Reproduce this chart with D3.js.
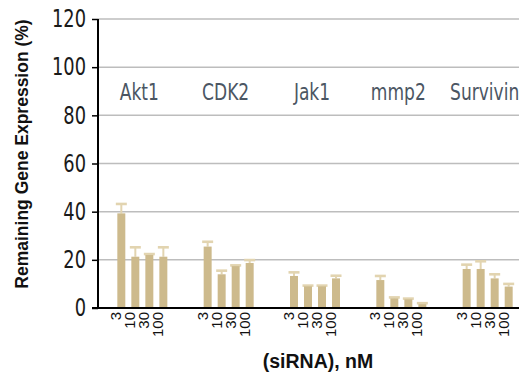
<!DOCTYPE html>
<html>
<head>
<meta charset="utf-8">
<script src="https://cdn.jsdelivr.net/npm/d3@7"></script>
<style>
  html, body { margin: 0; padding: 0; background: #fff; overflow: hidden; }
  svg { display: block; }
</style>
</head>
<body>
<div id="chart"></div>
<script>
// genes and siRNA doses
var genes = ["Akt1", "CDK2", "Jak1", "mmp2", "Survivin"];
var doses = ["3", "10", "30", "100"];
var yTicks = [0, 20, 40, 60, 80, 100, 120];

// mean remaining expression (%) per dose
var akt1 = [39.3, 21.3, 22.0, 21.3];
var cdk2 = [25.5, 14.0, 17.4, 18.7];
var jak1 = [13.3, 9.0, 9.0, 12.3];
var mmp2 = [11.6, 4.0, 3.6, 1.6];
var survivin = [16.2, 16.2, 12.3, 8.9];

// upper error (%)
var akt1Err = [3.9, 3.9, 0.4, 3.9];
var cdk2Err = [2.0, 1.5, 0.3, 1.2];
var jak1Err = [1.5, 0.3, 0.3, 1.1];
var mmp2Err = [1.7, 0.4, 0.3, 0.4];
var survivinErr = [1.8, 3.2, 1.7, 1.1];

function drawChart() {
    var means = [akt1, cdk2, jak1, mmp2, survivin];
    var errs = [akt1Err, cdk2Err, jak1Err, mmp2Err, survivinErr];

    var rows = [];
    genes.forEach(function (g, i) {
        doses.forEach(function (d, j) {
            rows.push({gene: g, dose: d, value: means[i][j], err: errs[i][j]});
        });
    });

    var width = 519, height = 373;
    var left = 98, plotTop = 19, bottom = 308;
    var narrow = "'Liberation Sans Narrow', 'Arial Narrow', 'DejaVu Sans Condensed', sans-serif";
    var sans = "'Liberation Sans', Arial, sans-serif";

    var svg = d3.select("#chart").append("svg")
        .attr("width", width)
        .attr("height", height);

    var y = d3.scaleLinear().domain([0, 120]).range([bottom, plotTop]);

    var x0 = d3.scaleBand()
        .domain(genes)
        .range([left, 532])
        .paddingInner(0.351)
        .paddingOuter(0.189);

    var x1 = d3.scaleBand()
        .domain(doses)
        .range([0, x0.bandwidth()])
        .paddingInner(0.43)
        .paddingOuter(0.215);

    // the original uses a condensed face; squeeze whatever we got to the same width
    function squeeze(sample, size, target) {
        var t = svg.append("text").style("font-family", narrow).style("font-size", size + "px").text(sample);
        var w = t.node().getComputedTextLength();
        t.remove();
        return Math.min(1, target / w);
    }
    var tickSx = squeeze("120", 24, 34);
    var geneSx = squeeze("mmp2", 23, 55);

    // gridlines
    svg.append("g")
        .selectAll("line")
        .data(yTicks.filter(function (d) { return d > 0; }))
        .enter()
        .append("line")
        .attr("x1", left)
        .attr("x2", width)
        .attr("y1", function (d) { return y(d); })
        .attr("y2", function (d) { return y(d); })
        .attr("stroke", "#bdbdbd")
        .attr("stroke-width", 1.5);

    // y axis
    var yAxis = svg.append("g")
        .attr("transform", "translate(" + left + ",0)")
        .call(d3.axisLeft(y).tickValues(yTicks).tickSize(6).tickPadding(5));
    yAxis.select(".domain").remove();
    yAxis.selectAll(".tick line").attr("stroke", "#000").attr("stroke-width", 1.5);
    yAxis.selectAll(".tick text")
        .attr("fill", "#1a1a1a")
        .attr("x", null)
        .attr("transform", "translate(-12,0) scale(" + tickSx + ",1)")
        .style("font-family", narrow)
        .style("font-size", "24px");

    // bars
    var groups = svg.append("g")
        .selectAll("g")
        .data(rows)
        .enter()
        .append("g")
        .attr("transform", function (d) { return "translate(" + (x0(d.gene) + x1(d.dose)) + ",0)"; });

    var bw = x1.bandwidth();

    groups.append("line")
        .attr("x1", bw / 2)
        .attr("x2", bw / 2)
        .attr("y1", function (d) { return y(d.value); })
        .attr("y2", function (d) { return y(d.value + d.err); })
        .attr("stroke", "#e2d4b0")
        .attr("stroke-width", 2);

    groups.append("line")
        .attr("x1", bw / 2 - 5.5)
        .attr("x2", bw / 2 + 5.5)
        .attr("y1", function (d) { return y(d.value + d.err); })
        .attr("y2", function (d) { return y(d.value + d.err); })
        .attr("stroke", "#e2d4b0")
        .attr("stroke-width", 2.6);

    groups.append("rect")
        .attr("x", 0)
        .attr("width", bw)
        .attr("y", function (d) { return y(d.value); })
        .attr("height", function (d) { return y(0) - y(d.value); })
        .attr("fill", "#cdba8c");

    // dose labels
    groups.append("text")
        .attr("transform", "translate(" + (bw / 2) + "," + (bottom + 4) + ") rotate(-90)")
        .attr("text-anchor", "end")
        .style("font-family", sans)
        .style("font-size", "15px")
        .attr("fill", "#111")
        .text(function (d) { return d.dose; });

    // axis lines
    svg.append("line")
        .attr("x1", left).attr("x2", left)
        .attr("y1", plotTop).attr("y2", bottom)
        .attr("stroke", "#000").attr("stroke-width", 2);
    svg.append("line")
        .attr("x1", left - 6).attr("x2", width)
        .attr("y1", bottom).attr("y2", bottom)
        .attr("stroke", "#000").attr("stroke-width", 2.2);

    // gene labels
    svg.append("g")
        .selectAll("text")
        .data(genes)
        .enter()
        .append("text")
        .attr("transform", function (d) {
            return "translate(" + (x0(d) + x0.bandwidth() / 2 - 3) + "," + y(86.5) + ") scale(" + geneSx + ",1)";
        })
        .attr("text-anchor", "middle")
        .attr("fill", "#4b5663")
        .style("font-family", narrow)
        .style("font-size", "23px")
        .text(function (d) { return d; });

    // axis titles
    svg.append("text")
        .attr("transform", "translate(28,154) rotate(-90)")
        .attr("text-anchor", "middle")
        .style("font-family", sans)
        .style("font-weight", "bold")
        .style("font-size", "17.5px")
        .attr("fill", "#111")
        .text("Remaining Gene Expression (%)");

    svg.append("text")
        .attr("x", 318)
        .attr("y", 368)
        .attr("text-anchor", "middle")
        .style("font-family", sans)
        .style("font-weight", "bold")
        .style("font-size", "19.5px")
        .attr("fill", "#111")
        .text("(siRNA), nM");
}

drawChart();
</script>
</body>
</html>
